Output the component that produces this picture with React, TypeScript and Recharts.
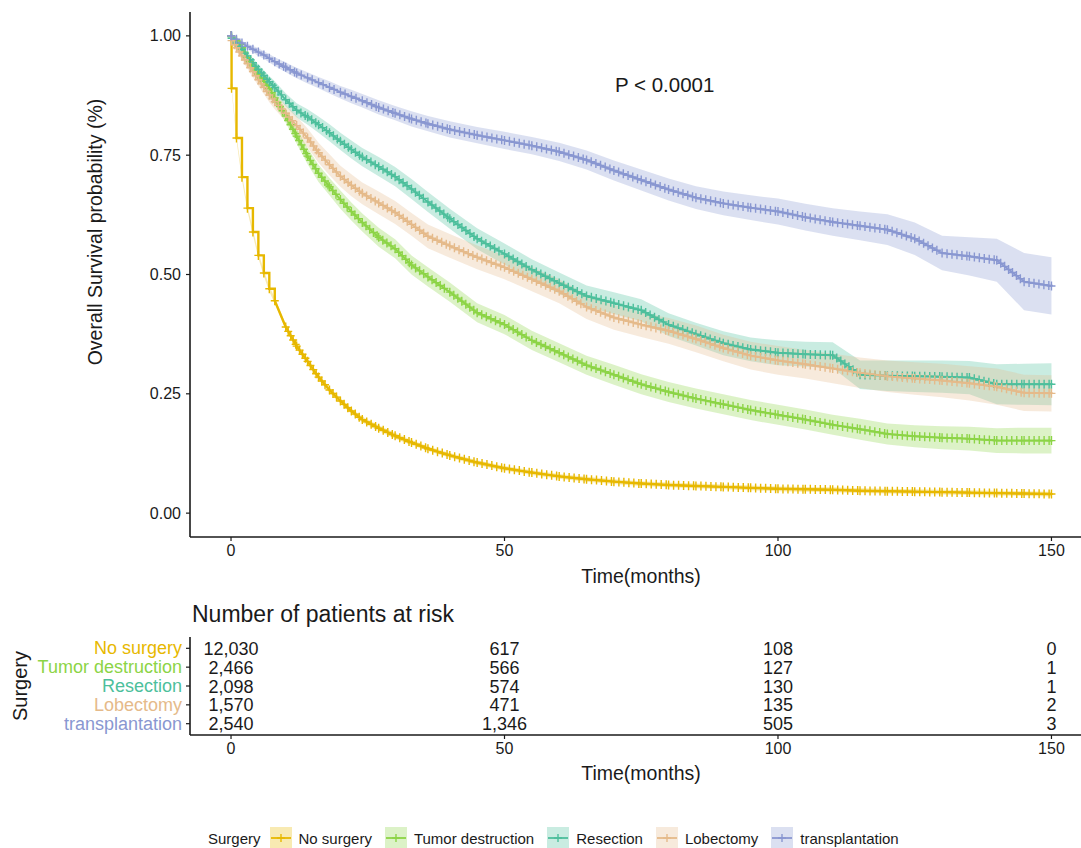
import React from 'react'
import { ComposedChart, Line, Area, XAxis, YAxis, ScatterChart, Scatter } from 'recharts'

// groups, colours
const GROUPS = ['No surgery', 'Tumor destruction', 'Resection', 'Lobectomy', 'transplantation']
const COLORS = ['#E7B800', '#8CD446', '#4DBF9C', '#E5BA8A', '#8997D1']

// follow-up time grid (months)
const TIME = [0, 0.1, 1, 2, 3, 4, 5, 6, 7, 8, 10, 12, 14, 16, 18, 20, 22, 24, 27, 30, 33, 36, 40, 45, 50, 55, 60, 65, 70, 75, 80, 85, 90, 95, 100, 105, 110, 115, 120, 125, 130, 135, 140, 145, 150]

// survival probability
const NO_SURGERY = [1.0, 0.89, 0.786, 0.704, 0.639, 0.589, 0.54, 0.503, 0.47, 0.445, 0.39, 0.35, 0.318, 0.285, 0.258, 0.235, 0.214, 0.196, 0.178, 0.162, 0.148, 0.135, 0.121, 0.106, 0.094, 0.085, 0.077, 0.071, 0.066, 0.062, 0.059, 0.057, 0.055, 0.053, 0.051, 0.05, 0.049, 0.047, 0.046, 0.045, 0.044, 0.043, 0.042, 0.041, 0.04]
const TUMOR_DESTRUCTION = [1.0, 0.998, 0.99, 0.975, 0.955, 0.934, 0.92, 0.905, 0.89, 0.87, 0.832, 0.79, 0.748, 0.712, 0.684, 0.657, 0.632, 0.609, 0.578, 0.554, 0.52, 0.495, 0.463, 0.42, 0.395, 0.362, 0.336, 0.31, 0.29, 0.27, 0.254, 0.24, 0.228, 0.216, 0.206, 0.196, 0.185, 0.176, 0.166, 0.161, 0.158, 0.156, 0.152, 0.152, 0.152]
const RESECTION = [1.0, 0.995, 0.985, 0.972, 0.958, 0.944, 0.93, 0.917, 0.904, 0.892, 0.866, 0.844, 0.83, 0.814, 0.797, 0.779, 0.762, 0.746, 0.726, 0.705, 0.679, 0.652, 0.617, 0.575, 0.543, 0.51, 0.482, 0.455, 0.44, 0.425, 0.395, 0.375, 0.356, 0.343, 0.336, 0.333, 0.331, 0.29, 0.288, 0.287, 0.286, 0.284, 0.27, 0.27, 0.27]
const LOBECTOMY = [1.0, 0.99, 0.975, 0.958, 0.942, 0.925, 0.908, 0.892, 0.876, 0.862, 0.838, 0.812, 0.786, 0.755, 0.73, 0.706, 0.687, 0.67, 0.65, 0.63, 0.605, 0.58, 0.56, 0.536, 0.515, 0.49, 0.465, 0.432, 0.41, 0.395, 0.382, 0.365, 0.346, 0.33, 0.32, 0.312, 0.303, 0.294, 0.287, 0.282, 0.278, 0.272, 0.265, 0.252, 0.251]
const TRANSPLANTATION = [1.0, 1.0, 0.993, 0.985, 0.978, 0.972, 0.966, 0.96, 0.953, 0.946, 0.934, 0.922, 0.912, 0.902, 0.892, 0.882, 0.873, 0.864, 0.85, 0.838, 0.826, 0.816, 0.804, 0.792, 0.781, 0.77, 0.757, 0.74, 0.718, 0.698, 0.678, 0.661, 0.649, 0.64, 0.632, 0.62, 0.61, 0.602, 0.594, 0.575, 0.545, 0.538, 0.53, 0.485, 0.476]

// half width of the confidence bands
const NO_SURGERY_CI = [0, 0.004, 0.005, 0.006, 0.006, 0.006, 0.006, 0.006, 0.006, 0.006, 0.006, 0.006, 0.006, 0.006, 0.006, 0.006, 0.006, 0.006, 0.006, 0.006, 0.005, 0.005, 0.005, 0.005, 0.005, 0.005, 0.005, 0.005, 0.005, 0.005, 0.005, 0.005, 0.005, 0.005, 0.005, 0.005, 0.005, 0.005, 0.005, 0.005, 0.005, 0.005, 0.005, 0.005, 0.005]
const TUMOR_DESTRUCTION_CI = [0, 0.002, 0.004, 0.006, 0.008, 0.009, 0.01, 0.011, 0.012, 0.013, 0.014, 0.016, 0.017, 0.018, 0.018, 0.019, 0.019, 0.019, 0.02, 0.02, 0.02, 0.02, 0.02, 0.02, 0.02, 0.02, 0.02, 0.02, 0.021, 0.021, 0.021, 0.021, 0.021, 0.021, 0.021, 0.021, 0.021, 0.022, 0.022, 0.023, 0.024, 0.025, 0.026, 0.027, 0.027]
const RESECTION_CI = [0, 0.003, 0.005, 0.007, 0.008, 0.009, 0.01, 0.011, 0.012, 0.013, 0.014, 0.015, 0.016, 0.017, 0.018, 0.018, 0.019, 0.019, 0.02, 0.02, 0.021, 0.021, 0.021, 0.022, 0.022, 0.022, 0.022, 0.022, 0.023, 0.023, 0.024, 0.024, 0.025, 0.025, 0.026, 0.026, 0.027, 0.03, 0.032, 0.033, 0.034, 0.035, 0.042, 0.043, 0.044]
const LOBECTOMY_CI = [0, 0.004, 0.007, 0.009, 0.011, 0.012, 0.013, 0.014, 0.015, 0.016, 0.017, 0.019, 0.02, 0.021, 0.022, 0.022, 0.023, 0.023, 0.024, 0.024, 0.024, 0.025, 0.025, 0.025, 0.025, 0.025, 0.025, 0.025, 0.026, 0.026, 0.027, 0.028, 0.028, 0.029, 0.03, 0.03, 0.031, 0.032, 0.033, 0.034, 0.035, 0.036, 0.038, 0.038, 0.038]
const TRANSPLANTATION_CI = [0, 0.002, 0.004, 0.005, 0.006, 0.007, 0.008, 0.008, 0.009, 0.009, 0.01, 0.011, 0.012, 0.012, 0.013, 0.013, 0.014, 0.014, 0.015, 0.015, 0.016, 0.016, 0.017, 0.017, 0.018, 0.018, 0.019, 0.02, 0.021, 0.022, 0.023, 0.024, 0.025, 0.026, 0.027, 0.028, 0.029, 0.03, 0.032, 0.034, 0.036, 0.04, 0.045, 0.06, 0.06]

// number at risk
const RISK_TIMES = [0, 50, 100, 150]
const RISK_NO_SURGERY = [12030, 617, 108, 0]
const RISK_TUMOR_DESTRUCTION = [2466, 566, 127, 1]
const RISK_RESECTION = [2098, 574, 130, 1]
const RISK_LOBECTOMY = [1570, 471, 135, 2]
const RISK_TRANSPLANTATION = [2540, 1346, 505, 3]

const X_TICKS = [0, 50, 100, 150]
const Y_TICKS = [0, 0.25, 0.5, 0.75, 1]

const SURV = [NO_SURGERY, TUMOR_DESTRUCTION, RESECTION, LOBECTOMY, TRANSPLANTATION]
const CI = [NO_SURGERY_CI, TUMOR_DESTRUCTION_CI, RESECTION_CI, LOBECTOMY_CI, TRANSPLANTATION_CI]
const RISK = [RISK_NO_SURGERY, RISK_TUMOR_DESTRUCTION, RISK_RESECTION, RISK_LOBECTOMY, RISK_TRANSPLANTATION]

// the early monthly drops of "No surgery" are drawn as a staircase
const STEP_END = 9

const W = 1081
const Y_AXIS_W = 190
const X_MIN = -7.5
const X_MAX = 155.4
const Y_MIN = -0.05
const Y_MAX = 1.05
const PLOT_TOP = 12
const PLOT_H = 525
const PX_PER_MONTH = (W - Y_AXIS_W) / (X_MAX - X_MIN)
const PX_PER_UNIT = PLOT_H / (Y_MAX - Y_MIN)
const INK = '#1a1a1a'
const FONT = '"Liberation Sans", Arial, Helvetica, sans-serif'

const survData = TIME.map((t, i) => {
  const row: Record<string, any> = { t }
  SURV.forEach((s, g) => {
    row[`s${g}`] = s[i]
    row[`b${g}`] = [Math.max(0, s[i] - CI[g][i]), Math.min(1, s[i] + CI[g][i])]
  })
  row.early0 = i <= STEP_END ? NO_SURGERY[i] : null
  row.late0 = i >= STEP_END ? NO_SURGERY[i] : null
  return row
})

const riskData = GROUPS.flatMap((_, g) =>
  RISK_TIMES.map((t, j) => ({ t, row: GROUPS.length - g, n: RISK[g][j] }))
)

// censor "+" marks spread along each segment of the curve
function censorDot(values: number[], color: string, name: string, step: boolean, from: number, to: number) {
  return (props: any) => {
    const { cx, cy, index } = props
    const key = `${name}-${index}`
    if (cx == null || cy == null || index < from || index > to) return <g key={key} />
    const pts: number[][] = [[cx, cy]]
    if (index < to) {
      const dx = (TIME[index + 1] - TIME[index]) * PX_PER_MONTH
      const dy = step ? 0 : (values[index] - values[index + 1]) * PX_PER_UNIT
      const len = Math.hypot(dx, dy)
      for (let d = 5; d < len - 2; d += 5) pts.push([cx + (dx * d) / len, cy + (dy * d) / len])
    }
    return (
      <g key={key}>
        {pts.map(([x, y], k) => (
          <path key={k} d={`M${x - 4},${y}H${x + 4}M${x},${y - 4.5}V${y + 4.5}`} stroke={color} strokeWidth={1.4} fill="none" />
        ))}
      </g>
    )
  }
}

const XTick = ({ x, y, payload }: any) => (
  <text x={x} y={y + 13} textAnchor="middle" fontSize={16} fill={INK} fontFamily={FONT}>{payload.value}</text>
)

const YTick = ({ x, y, payload }: any) => (
  <text x={x} y={y + 5.5} textAnchor="end" fontSize={16} fill={INK} fontFamily={FONT}>{payload.value.toFixed(2)}</text>
)

const RiskYTick = ({ x, y, payload }: any) => {
  const g = GROUPS.length - payload.value
  return (
    <text x={x} y={y + 6} textAnchor="end" fontSize={18} fill={COLORS[g]} fontFamily={FONT}>{GROUPS[g]}</text>
  )
}

const RiskCell = (props: any) => {
  const { cx, cy, payload } = props
  return (
    <text x={cx} y={cy + 6.5} textAnchor="middle" fontSize={18} fill={INK} fontFamily={FONT}>
      {payload.n.toLocaleString('en-US')}
    </text>
  )
}

const LegendKey = ({ color }: { color: string }) => (
  <svg width={22} height={22} style={{ display: 'block' }}>
    <rect x={0} y={0} width={22} height={22} fill={color} fillOpacity={0.3} />
    <path d="M1,11H21" stroke={color} strokeWidth={1.8} />
    <path d="M7,11H15M11,7V15" stroke={color} strokeWidth={1.4} />
  </svg>
)

const axisProps = {
  axisLine: { stroke: INK, strokeWidth: 1.6 },
  tickLine: { stroke: INK, strokeWidth: 1.2 },
  tickSize: 4,
}

export default function App() {
  return (
    <div style={{ position: 'absolute', left: 0, top: 0, width: W, height: 848, background: '#fff', fontFamily: FONT, overflow: 'hidden' }}>
      <div style={{ position: 'absolute', left: 0, top: 0 }}>
        <ComposedChart width={W} height={600} data={survData} margin={{ top: PLOT_TOP, right: 0, bottom: 0, left: 0 }}>
          <XAxis dataKey="t" type="number" domain={[X_MIN, X_MAX]} ticks={X_TICKS} allowDataOverflow height={63} tick={<XTick />} {...axisProps} />
          <YAxis type="number" domain={[Y_MIN, Y_MAX]} ticks={Y_TICKS} allowDataOverflow width={Y_AXIS_W} tickMargin={5} tick={<YTick />} {...axisProps} />
          {GROUPS.map((g, i) => (
            <Area
              key={`band-${g}`}
              dataKey={`b${i}`}
              type="linear"
              stroke="none"
              fill={COLORS[i]}
              fillOpacity={0.3}
              isAnimationActive={false}
              activeDot={false}
            />
          ))}
          <Line
            dataKey="early0"
            type="stepAfter"
            stroke={COLORS[0]}
            strokeWidth={2.4}
            dot={censorDot(NO_SURGERY, COLORS[0], 'e0', true, 0, STEP_END)}
            activeDot={false}
            isAnimationActive={false}
          />
          <Line
            dataKey="late0"
            type="linear"
            stroke={COLORS[0]}
            strokeWidth={2.4}
            dot={censorDot(NO_SURGERY, COLORS[0], 'l0', false, STEP_END + 1, TIME.length - 1)}
            activeDot={false}
            isAnimationActive={false}
          />
          {GROUPS.slice(1).map((g, k) => {
            const i = k + 1
            return (
              <Line
                key={`line-${g}`}
                dataKey={`s${i}`}
                type="linear"
                stroke={COLORS[i]}
                strokeWidth={2}
                dot={censorDot(SURV[i], COLORS[i], `c${i}`, false, 0, TIME.length - 1)}
                activeDot={false}
                isAnimationActive={false}
              />
            )
          })}
        </ComposedChart>
      </div>

      <div style={{ position: 'absolute', left: 0, top: 600 }}>
        <ScatterChart width={W} height={200} margin={{ top: 37, right: 0, bottom: 0, left: 0 }}>
          <XAxis dataKey="t" type="number" domain={[X_MIN, X_MAX]} ticks={X_TICKS} allowDataOverflow height={65} tick={<XTick />} {...axisProps} />
          <YAxis
            dataKey="row"
            type="number"
            domain={[0.4, 5.6]}
            ticks={[1, 2, 3, 4, 5]}
            interval={0}
            width={Y_AXIS_W}
            tickMargin={4}
            tick={<RiskYTick />}
            {...axisProps}
          />
          <Scatter data={riskData} shape={<RiskCell />} isAnimationActive={false} />
        </ScatterChart>
      </div>

      <svg width={W} height={848} style={{ position: 'absolute', left: 0, top: 0, pointerEvents: 'none' }}>
        <text x={615} y={92} fontSize={20.5} fill={INK} fontFamily={FONT}>P &lt; 0.0001</text>
        <text transform="translate(102,232) rotate(-90)" textAnchor="middle" fontSize={19.5} fill={INK} fontFamily={FONT}>
          Overall Survival probability (%)
        </text>
        <text x={641} y={583} textAnchor="middle" fontSize={19.5} fill={INK} fontFamily={FONT}>Time(months)</text>
        <text x={192} y={622} fontSize={23} fill={INK} fontFamily={FONT}>Number of patients at risk</text>
        <text transform="translate(27,686) rotate(-90)" textAnchor="middle" fontSize={20} fill={INK} fontFamily={FONT}>Surgery</text>
        <text x={641} y={780} textAnchor="middle" fontSize={19.5} fill={INK} fontFamily={FONT}>Time(months)</text>
      </svg>

      <div style={{ position: 'absolute', left: 208, top: 827, display: 'flex', alignItems: 'center', fontSize: 15, color: INK, fontFamily: FONT }}>
        <span style={{ marginRight: 9 }}>Surgery</span>
        {GROUPS.map((g, i) => (
          <React.Fragment key={g}>
            <LegendKey color={COLORS[i]} />
            <span style={{ marginLeft: 7, marginRight: 13 }}>{g}</span>
          </React.Fragment>
        ))}
      </div>
    </div>
  )
}
